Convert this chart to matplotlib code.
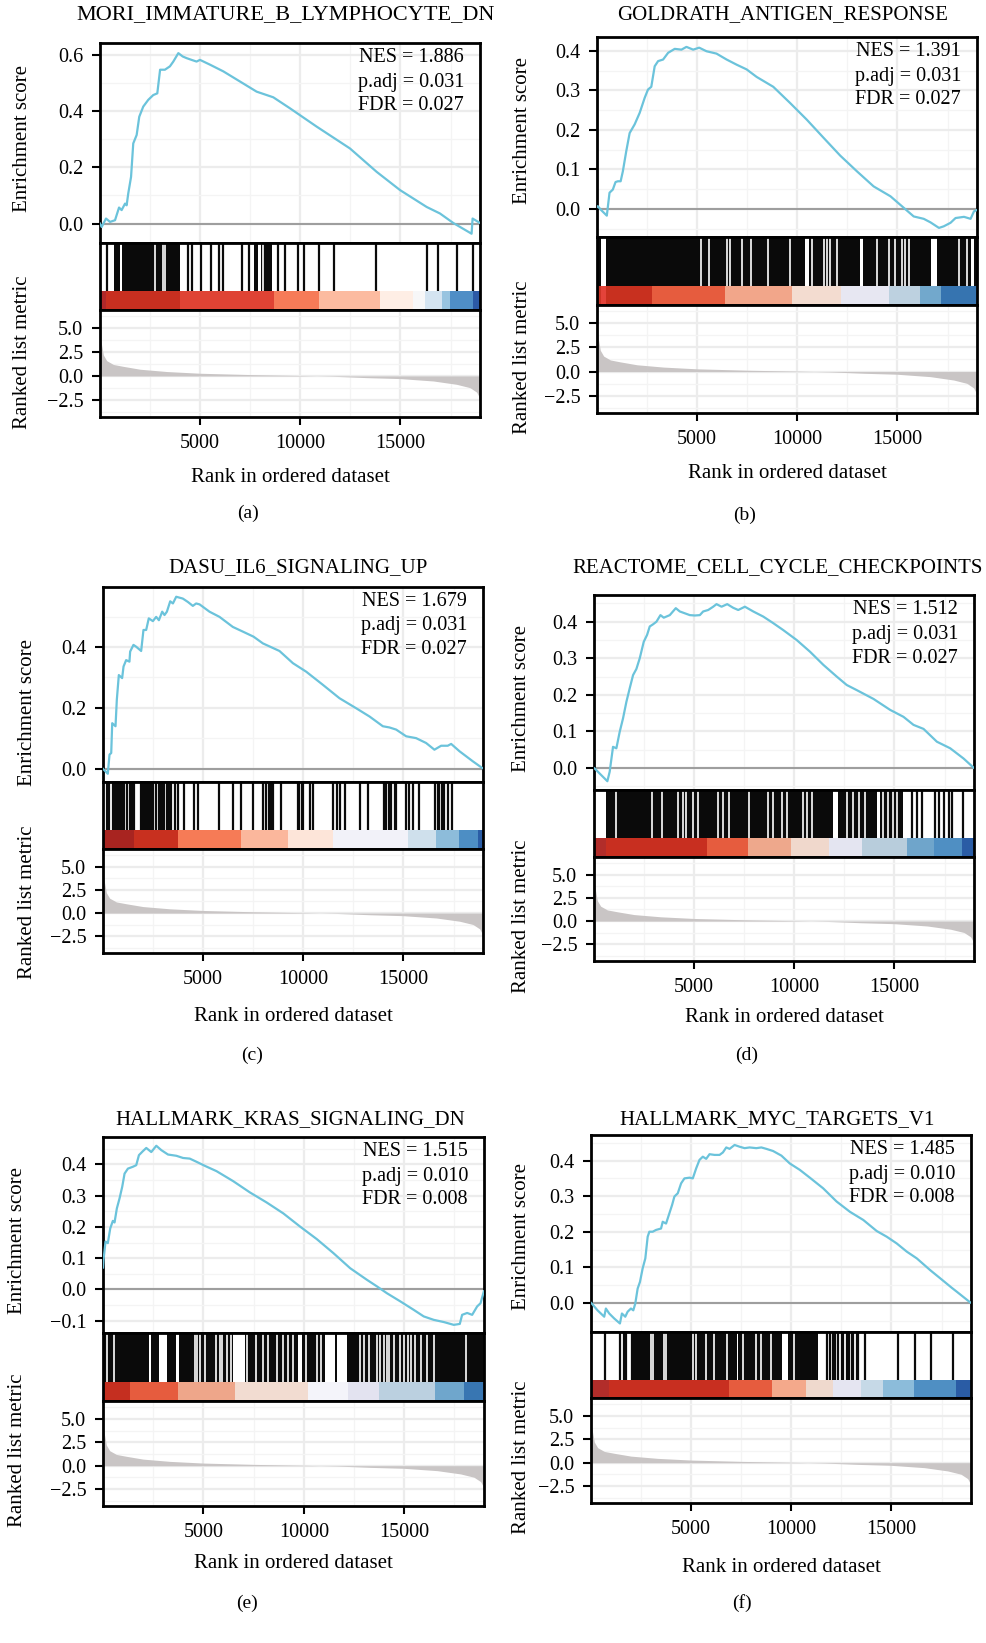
import matplotlib.pyplot as plt
from matplotlib.ticker import MultipleLocator

plt.rcParams['font.family'] = ['Liberation Serif', 'DejaVu Serif']

W, H = 987, 1643
N_GENES = 18970

titles = ["MORI_IMMATURE_B_LYMPHOCYTE_DN", "GOLDRATH_ANTIGEN_RESPONSE",
          "DASU_IL6_SIGNALING_UP", "REACTOME_CELL_CYCLE_CHECKPOINTS",
          "HALLMARK_KRAS_SIGNALING_DN", "HALLMARK_MYC_TARGETS_V1"]
nes_values = ["1.886", "1.391", "1.679", "1.512", "1.515", "1.485"]
padj_values = ["0.031", "0.031", "0.031", "0.031", "0.010", "0.010"]
fdr_values = ["0.027", "0.027", "0.027", "0.027", "0.008", "0.008"]
tags = ["(a)", "(b)", "(c)", "(d)", "(e)", "(f)"]

x_ticks = [5000, 10000, 15000]
metric_ticks = [-2.5, 0.0, 2.5, 5.0]
es_ticks = [[0.0, 0.2, 0.4, 0.6], [0.0, 0.1, 0.2, 0.3, 0.4], [0.0, 0.2, 0.4],
            [0.0, 0.1, 0.2, 0.3, 0.4], [-0.1, 0.0, 0.1, 0.2, 0.3, 0.4],
            [0.0, 0.1, 0.2, 0.3, 0.4]]

# ranked list metric, same ranking in every panel
metric_rank = [0, 17, 83, 166, 333, 666, 1165, 1997, 3328, 4992, 7488, 9984,
               11648, 13312, 14976, 16640, 17805, 18470, 18803, 18903, 18970]
metric_value = [4.4, 4.0, 3.2, 2.2, 1.6, 1.2, 1.0, 0.7, 0.46, 0.28, 0.14, 0.04,
                -0.04, -0.18, -0.28, -0.53, -0.88, -1.23, -1.7, -2.1, -3.0]

# running enrichment scores
es_rank_a = [0, 83, 300, 500, 750, 950, 1080, 1250, 1330, 1410, 1550, 1660, 1830, 1960,
             2160, 2410, 2660, 2860, 3000, 3240, 3490, 3660, 3910, 4130, 4330, 4570,
             4820, 4990, 5490, 6160, 6990, 7820, 8650, 9480, 10810, 12480, 13810,
             14980, 16310, 16970, 17640, 18550, 18600, 18970]
es_a = [0.0, -0.012, 0.018, 0.006, 0.012, 0.057, 0.048, 0.071, 0.065, 0.107, 0.166,
        0.285, 0.315, 0.380, 0.416, 0.440, 0.457, 0.463, 0.547, 0.547, 0.559, 0.576,
        0.606, 0.594, 0.588, 0.582, 0.576, 0.582, 0.565, 0.541, 0.505, 0.469, 0.449,
        0.410, 0.345, 0.267, 0.184, 0.119, 0.059, 0.036, 0.002, -0.036, 0.018, 0.002]

es_rank_b = [0, 40, 210, 490, 625, 790, 925, 1040, 1180, 1290, 1460, 1630, 1880, 2130,
             2380, 2545, 2710, 2880, 3050, 3300, 3550, 3880, 4215, 4465, 4800, 5100,
             5465, 5965, 6470, 6970, 7470, 7970, 8800, 9640, 10470, 11310, 12140,
             12980, 13810, 14650, 15310, 15810, 16310, 16650, 17070, 17310, 17650,
             17900, 18320, 18650, 18820, 18950]
es_b = [0.005, 0.007, -0.003, -0.017, 0.041, 0.049, 0.068, 0.070, 0.070, 0.095, 0.146,
        0.192, 0.214, 0.243, 0.281, 0.302, 0.309, 0.361, 0.374, 0.378, 0.395, 0.405,
        0.403, 0.410, 0.403, 0.408, 0.399, 0.393, 0.378, 0.365, 0.353, 0.334, 0.309,
        0.268, 0.226, 0.180, 0.135, 0.095, 0.057, 0.032, 0.003, -0.019, -0.025,
        -0.034, -0.048, -0.044, -0.035, -0.023, -0.020, -0.025, -0.006, -0.003]

es_rank_c = [0, 125, 240, 325, 410, 460, 625, 690, 790, 955, 1025, 1155, 1320, 1355,
             1520, 1655, 1905, 2020, 2155, 2285, 2490, 2655, 2790, 2955, 3070, 3190,
             3355, 3490, 3655, 3985, 4235, 4485, 4650, 4820, 5315, 5815, 6480, 7065,
             7515, 7980, 8810, 9480, 10145, 10975, 11805, 12640, 13305, 13970, 14300,
             14635, 15135, 15630, 16130, 16545, 16880, 17210, 17380, 17795, 18460, 18930]
es_c = [0.0, -0.008, -0.016, 0.047, 0.052, 0.150, 0.140, 0.227, 0.308, 0.298, 0.336,
        0.357, 0.352, 0.385, 0.407, 0.401, 0.387, 0.456, 0.456, 0.494, 0.485, 0.499,
        0.488, 0.516, 0.505, 0.516, 0.550, 0.543, 0.565, 0.559, 0.548, 0.535, 0.543,
        0.540, 0.516, 0.499, 0.466, 0.448, 0.434, 0.412, 0.387, 0.347, 0.319, 0.276,
        0.232, 0.199, 0.172, 0.140, 0.136, 0.129, 0.107, 0.101, 0.085, 0.063, 0.076,
        0.076, 0.082, 0.058, 0.025, 0.003]

es_rank_d = [0, 33, 283, 667, 783, 950, 1117, 1283, 1450, 1617, 1783, 1950, 2117, 2283,
             2483, 2650, 2783, 2950, 3117, 3317, 3483, 3783, 4083, 4283, 4533, 4783,
             5033, 5283, 5450, 5700, 5950, 6117, 6367, 6650, 6950, 7200, 7533, 7950,
             8450, 8950, 9450, 10117, 10783, 11450, 12117, 12617, 13117, 13950, 14783,
             15450, 15950, 16450, 17117, 17783, 18450, 18950]
es_d = [0.0, -0.001, -0.015, -0.036, -0.010, 0.058, 0.054, 0.099, 0.136, 0.181, 0.218,
        0.254, 0.271, 0.300, 0.345, 0.364, 0.387, 0.393, 0.400, 0.418, 0.411, 0.418,
        0.437, 0.428, 0.423, 0.418, 0.417, 0.418, 0.428, 0.432, 0.441, 0.448, 0.441,
        0.448, 0.438, 0.432, 0.441, 0.428, 0.414, 0.396, 0.377, 0.350, 0.318, 0.282,
        0.250, 0.227, 0.213, 0.189, 0.159, 0.140, 0.118, 0.107, 0.072, 0.054, 0.026,
        0.001]

es_rank_e = [0, 25, 125, 240, 360, 490, 574, 690, 824, 957, 1073, 1240, 1490, 1655,
             1789, 1989, 2155, 2404, 2654, 2904, 3237, 3653, 3986, 4318, 4651, 5067,
             5650, 6482, 7314, 8146, 8978, 9810, 10642, 11474, 12306, 13138, 13637,
             14137, 14803, 15469, 15968, 16467, 16966, 17466, 17765, 17881, 18131,
             18381, 18630, 18797, 18963]
es_e = [0.07, 0.094, 0.153, 0.148, 0.195, 0.219, 0.214, 0.259, 0.291, 0.328, 0.370,
        0.386, 0.392, 0.397, 0.429, 0.442, 0.452, 0.439, 0.459, 0.445, 0.431, 0.427,
        0.420, 0.418, 0.408, 0.395, 0.378, 0.346, 0.310, 0.278, 0.243, 0.201, 0.161,
        0.116, 0.068, 0.031, 0.010, -0.012, -0.038, -0.065, -0.086, -0.097, -0.104,
        -0.113, -0.110, -0.081, -0.075, -0.081, -0.054, -0.044, -0.006]

es_rank_f = [0, 40, 325, 660, 743, 910, 1160, 1444, 1544, 1711, 1828, 1994, 2111, 2211,
             2328, 2445, 2579, 2712, 2829, 2913, 3080, 3246, 3497, 3580, 3747, 3914,
             4047, 4164, 4331, 4498, 4665, 4915, 5082, 5249, 5416, 5583, 5750, 5917,
             6167, 6418, 6585, 6752, 6918, 7169, 7419, 7669, 7919, 8253, 8503, 8754,
             9088, 9505, 9922, 10423, 10924, 11591, 12259, 12926, 13594, 14262, 14762,
             15263, 15764, 16265, 16932, 17433, 18017, 18267, 18935]
es_f = [0.0, -0.002, -0.021, -0.039, -0.016, -0.030, -0.044, -0.058, -0.030, -0.039,
        -0.025, -0.016, -0.021, -0.002, 0.040, 0.059, 0.097, 0.125, 0.186, 0.200, 0.200,
        0.205, 0.209, 0.228, 0.223, 0.252, 0.275, 0.299, 0.308, 0.336, 0.350, 0.352,
        0.350, 0.378, 0.402, 0.411, 0.405, 0.418, 0.416, 0.416, 0.423, 0.437, 0.433,
        0.444, 0.439, 0.435, 0.437, 0.435, 0.437, 0.433, 0.427, 0.414, 0.392, 0.374,
        0.352, 0.322, 0.285, 0.256, 0.233, 0.202, 0.186, 0.167, 0.144, 0.125, 0.092,
        0.069, 0.042, 0.031, 0.001]

# gene set hits: single lines, dense runs, and white gaps inside the runs
hit_lines_a = [333, 4410, 4576, 5042, 5541, 5940, 6157, 7105, 7455, 8869, 9235, 9901,
               10200, 10932, 11698, 13778, 16340, 16890, 17838, 18604]
hit_blocks_a = [(699, 999), (1115, 3994), (7705, 7904), (8021, 8570)]
gap_lines_a = [2745, 3145, 3245, 8154]
gap_blocks_a = []

hit_lines_b = []
hit_blocks_b = [(0, 18970)]
gap_lines_b = [5182, 5600, 6468, 6634, 7218, 7669, 8554, 9639, 10723, 11308, 11475,
               11642, 11976, 13978, 14562, 14896, 15230, 15397, 15564, 18067, 18450]
gap_blocks_b = [(190, 459), (10390, 10606), (13110, 13277), (16682, 16983),
                (18650, 18817)]

hit_lines_c = [208, 324, 491, 574, 657, 740, 824, 907, 990, 1073, 1206, 1323, 1456,
               1572, 1905, 1989, 2072, 2155, 2238, 2321, 2404, 2488, 2621, 2787, 2904,
               2987, 3070, 3187, 3286, 3403, 3603, 3769, 4019, 4518, 4767, 5782, 6481,
               6897, 7479, 8012, 8145, 8278, 8395, 8511, 8894, 9726, 9809, 9942, 10009,
               10342, 10475, 11473, 11673, 11839, 12056, 12805, 13221, 14020, 14136,
               14253, 14386, 14552, 14635, 15134, 15300, 15467, 15766, 16582, 16715,
               16798, 16931, 17047, 17214, 17414]
hit_blocks_c = []
gap_lines_c = []
gap_blocks_c = []

hit_lines_d = [15867, 16117, 16367, 17033, 17200, 17450, 17700, 17867, 18417]
hit_blocks_d = [(617, 11950), (12200, 15450)]
gap_lines_d = [1083, 2917, 3417, 4200, 4450, 4617, 4950, 5200, 6200, 6417, 6750, 7750,
               8700, 8917, 9367, 9617, 10450, 10617, 10867, 12617, 12950, 13250, 13533,
               14450, 14700, 14950, 15117]
gap_blocks_d = [(14150, 14283)]

hit_lines_e = []
hit_blocks_e = [(0, 18970)]
gap_lines_e = [191, 524, 4565, 4684, 4817, 5067, 5616, 5816, 5949, 6182, 6349, 7181,
               7613, 7979, 8229, 8645, 8944, 9227, 9477, 10109, 10641, 10841, 12772,
               12972, 13221, 13637, 13804, 13970, 14136, 14219, 14469, 14802, 14968,
               15168, 15334, 15550, 15833, 16133, 16465, 18088]
gap_blocks_e = [(2288, 2405), (2787, 3187), (3653, 3786), (6482, 7064), (9726, 9893),
                (11057, 11557), (11640, 12172)]

hit_lines_f = [709, 1460, 1661, 1744, 2045, 2161, 11792, 11925, 12058, 12176, 12343,
               12510, 12593, 12760, 12893, 13010, 13093, 13260, 13344, 13677, 15346,
               16181, 16965, 18066]
hit_blocks_f = [(2211, 11341)]
gap_lines_f = [2995, 3113, 3664, 3747, 5116, 5249, 5750, 6117, 6785, 7585, 8253, 8503,
               9004, 10122]
gap_blocks_f = [(7285, 7352), (9555, 9856)]

# colour strip under the hits (rank edges and colours)
cb_edges_a = [0, 300, 3994, 8686, 10949, 13978, 15609, 16224, 17057, 17472, 18637, 18970]
cb_colors_a = ['#B0282A', '#C82F20', '#DF4334', '#F67B58', '#FCBBA0', '#FEEEE5',
               '#F7F7F8', '#D4E4F1', '#98C4E0', '#4F8EC6', '#2C5AA6']
cb_edges_b = [0, 190, 459, 2762, 6384, 9722, 12175, 14562, 16114, 17149, 18970]
cb_colors_b = ['#CC3426', '#E4433A', '#C8301F', '#E65C3E', '#F2A68A', '#F3DCD0',
               '#E7E7F2', '#BDD1E0', '#72A8CC', '#3674B0']
cb_edges_c = [0, 1572, 3736, 6897, 9226, 11473, 15217, 16631, 17796, 18711, 18970]
cb_colors_c = ['#A82420', '#C8301F', '#F67B56', '#FBB79C', '#FDE5D9', '#F2F2F9',
               '#CFE0EC', '#8DBCDA', '#4D8EC4', '#2A5CA5']
cb_edges_d = [0, 617, 5650, 7700, 9833, 11750, 13367, 15650, 16950, 18367, 18970]
cb_colors_d = ['#B22D2A', '#C82F20', '#E65C3E', '#EEA88C', '#F0D8CC', '#E4E5F1',
               '#B8CDDC', '#6FA5CB', '#4F8FC3', '#2A5CA5']
cb_edges_e = [0, 1356, 3736, 6564, 10226, 12222, 13720, 16548, 17962, 18970]
cb_colors_e = ['#C52F20', '#E65C3E', '#EEA68A', '#F2DCD1', '#F4F4FA', '#E3E3F0',
               '#BBD0E0', '#6FA6CC', '#3876B2']
cb_edges_f = [0, 876, 6885, 9055, 10757, 12093, 13461, 14596, 16132, 18235, 18970]
cb_colors_f = ['#B22D2A', '#C82F20', '#E65C3E', '#F4A98B', '#EFD9CD', '#E5E5F1',
               '#C6D9E7', '#8CBCDA', '#4F8FC3', '#2A5CA5']

es_ranks = [es_rank_a, es_rank_b, es_rank_c, es_rank_d, es_rank_e, es_rank_f]
es_scores = [es_a, es_b, es_c, es_d, es_e, es_f]
hit_lines = [hit_lines_a, hit_lines_b, hit_lines_c, hit_lines_d, hit_lines_e, hit_lines_f]
hit_blocks = [hit_blocks_a, hit_blocks_b, hit_blocks_c, hit_blocks_d, hit_blocks_e, hit_blocks_f]
gap_lines = [gap_lines_a, gap_lines_b, gap_lines_c, gap_lines_d, gap_lines_e, gap_lines_f]
gap_blocks = [gap_blocks_a, gap_blocks_b, gap_blocks_c, gap_blocks_d, gap_blocks_e, gap_blocks_f]
cb_edges = [cb_edges_a, cb_edges_b, cb_edges_c, cb_edges_d, cb_edges_e, cb_edges_f]
cb_colors = [cb_colors_a, cb_colors_b, cb_colors_c, cb_colors_d, cb_colors_e, cb_colors_f]

# layout in pixels: left, right, es top, es bottom, strip top, strip bottom, metric bottom
boxes = [(100, 480, 43, 243, 291, 310, 417),
         (597, 977, 37, 237, 286, 305, 413),
         (103, 483, 587, 782, 830, 849, 953),
         (594, 974, 595, 790, 838, 857, 961),
         (103, 484, 1137, 1333, 1382, 1401, 1506),
         (591, 971, 1135, 1332, 1380, 1398, 1503)]
es_limits = [(-0.069, 0.642), (-0.071, 0.435), (-0.043, 0.597),
             (-0.060, 0.473), (-0.139, 0.487), (-0.082, 0.472)]
title_xy = [(286, 15), (783, 15), (298, 568), (778, 568), (290, 1120), (777, 1120)]
title_size = [16, 15, 15, 15, 15, 15]
ylab_x = [23, 523, 28, 522, 18, 522]
es_lab_y = [138, 130, 712, 699, 1241, 1237]
rank_lab_y = [352, 357, 902, 916, 1450, 1457]
xlab_y = [478, 473, 1017, 1018, 1563, 1567]
tag_xy = [(248, 513), (745, 515), (252, 1055), (747, 1055), (247, 1603), (742, 1603)]

GRID_MAJ = '#ECECEC'
GRID_MIN = '#F4F4F4'
ES_COLOR = '#6BC3DB'


def fmt(v):
    return f"{v:.1f}".replace('-', '\u2212')


def frame(ax):
    for s in ax.spines.values():
        s.set_linewidth(2.0)
        s.set_color('black')


def px(x, y):
    return x / W, 1 - y / H


fig = plt.figure(figsize=(W / 100, H / 100), dpi=100)

for i in range(6):
    left, right, top, mid, cb_top, low, bottom = boxes[i]
    wfrac = (right - left) / W

    ax1 = fig.add_axes([left / W, 1 - mid / H, wfrac, (mid - top) / H])
    ax2 = fig.add_axes([left / W, 1 - low / H, wfrac, (low - mid) / H])
    ax3 = fig.add_axes([left / W, 1 - bottom / H, wfrac, (bottom - low) / H])

    # enrichment score panel
    ax1.set_axisbelow(True)
    ax1.set_xlim(0, N_GENES)
    ax1.set_ylim(*es_limits[i])
    ax1.set_xticks(x_ticks)
    ax1.set_xticks([2500, 7500, 12500, 17500], minor=True)
    ax1.set_yticks(es_ticks[i])
    ax1.set_yticklabels([fmt(v) for v in es_ticks[i]])
    step = es_ticks[i][1] - es_ticks[i][0]
    ax1.yaxis.set_minor_locator(MultipleLocator(step / 2))
    ax1.grid(which='major', color=GRID_MAJ, lw=1.6)
    ax1.grid(which='minor', color=GRID_MIN, lw=0.9)
    ax1.axhline(0, color='#9E9E9E', lw=1.5, zorder=2)
    ax1.plot(es_ranks[i], es_scores[i], color=ES_COLOR, lw=1.6, zorder=3)
    ax1.tick_params(axis='x', which='both', length=0, labelbottom=False)
    ax1.tick_params(axis='y', which='major', direction='out', length=6, width=1.5,
                    pad=6, labelsize=14.5)
    ax1.tick_params(axis='y', which='minor', length=0)
    frame(ax1)

    # hits and colour strip
    cb_h = (low - cb_top) / (low - mid)
    ax2.set_xlim(0, N_GENES)
    ax2.set_ylim(0, 1)
    ax2.set_xticks([])
    ax2.set_yticks([])
    if hit_blocks[i]:
        ax2.broken_barh([(s, e - s) for s, e in hit_blocks[i]], (cb_h, 1 - cb_h),
                        facecolors='#0A0A0A')
    if gap_blocks[i]:
        ax2.broken_barh([(s, e - s) for s, e in gap_blocks[i]], (cb_h, 1 - cb_h),
                        facecolors='white')
    if gap_lines[i]:
        ax2.vlines(gap_lines[i], cb_h, 1, color='white', lw=1.2)
    if hit_lines[i]:
        ax2.vlines(hit_lines[i], cb_h, 1, color='#0A0A0A', lw=1.6)
    ed = cb_edges[i]
    ax2.broken_barh([(ed[k], ed[k + 1] - ed[k]) for k in range(len(ed) - 1)],
                    (0, cb_h), facecolors=cb_colors[i])
    frame(ax2)

    # ranked list metric
    ax3.set_axisbelow(True)
    ax3.set_xlim(0, N_GENES)
    ax3.set_ylim(-4.3, 6.9)
    ax3.set_xticks(x_ticks)
    ax3.set_xticklabels([str(v) for v in x_ticks])
    ax3.set_xticks([2500, 7500, 12500, 17500], minor=True)
    ax3.set_yticks(metric_ticks)
    ax3.set_yticklabels([fmt(v) for v in metric_ticks])
    ax3.set_yticks([-3.75, -1.25, 1.25, 3.75, 6.25], minor=True)
    ax3.grid(which='major', color=GRID_MAJ, lw=1.6)
    ax3.grid(which='minor', color=GRID_MIN, lw=0.9)
    ax3.fill_between(metric_rank, 0, metric_value, color='#C9C5C5', lw=0, zorder=2)
    ax3.tick_params(which='major', direction='out', length=6, width=1.5, pad=6,
                    labelsize=14.5)
    ax3.tick_params(which='minor', length=0)
    frame(ax3)

    cx = (left + right) / 2
    fig.text(*px(*title_xy[i]), titles[i], ha='center', va='center',
             fontsize=title_size[i])
    fig.text(*px(cx, xlab_y[i]), "Rank in ordered dataset", ha='center', va='center',
             fontsize=15)
    fig.text(*px(ylab_x[i], es_lab_y[i]), "Enrichment score", ha='center', va='center',
             rotation=90, fontsize=15)
    fig.text(*px(ylab_x[i], rank_lab_y[i]), "Ranked list metric", ha='center',
             va='center', rotation=90, fontsize=15)
    fig.text(*px(*tag_xy[i]), tags[i], ha='center', va='center', fontsize=14)

    stats = [f"NES = {nes_values[i]}", f"p.adj = {padj_values[i]}",
             f"FDR = {fdr_values[i]}"]
    for k, s in enumerate(stats):
        fig.text(*px(right - 16, top + 15 + 24 * k), s, ha='right', va='center',
                 fontsize=14.5)

fig.savefig('out.png', dpi=100)
